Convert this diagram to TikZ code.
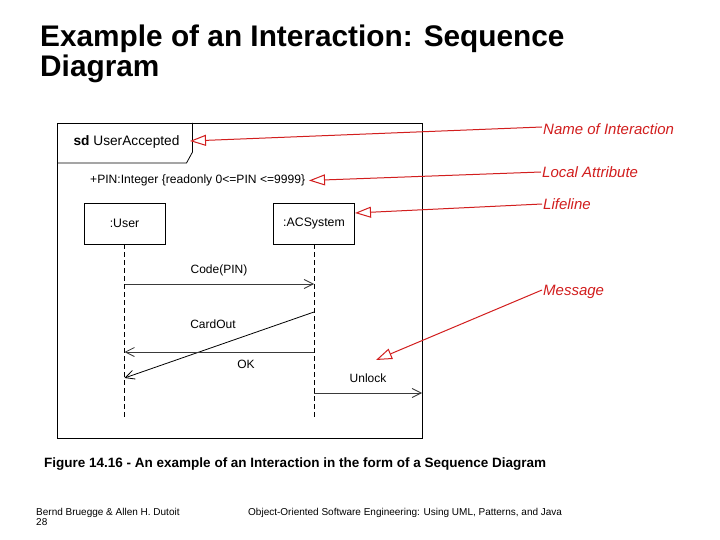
\documentclass[tikz,border=0pt]{standalone}
\usepackage{fontspec}
\setmainfont{Liberation Sans}
\usetikzlibrary{arrows.meta,positioning}
\definecolor{NoteRed}{HTML}{D21E1E}
\definecolor{MsgGrey}{HTML}{3A3A3A}

\begin{document}
\begin{tikzpicture}[x=1pt,y=-1pt,
 lifebox/.style={draw,line width=.8pt,minimum width=81pt,minimum height=41pt,inner sep=0pt,font=\fontsize{12.3}{14}\selectfont},
 lifeline/.style={dashed,line width=.8pt,dash pattern=on 5pt off 3pt},
 msg/.style={draw=MsgGrey,line width=.8pt,-{Straight Barb[length=9pt,width=9pt]}},
 msglabel/.style={font=\fontsize{12}{14}\selectfont,inner sep=1pt},
 note/.style={font=\itshape\fontsize{15}{17}\selectfont,text=NoteRed,anchor=west,inner sep=1pt},
 callout/.style={draw=NoteRed,line width=1pt,-{Triangle[open,length=16pt,width=11pt,fill=white]}}]
 \fill[white] (0,0) rectangle (720,540);
 % slide title
 \node[anchor=base west,inner sep=0pt,font=\bfseries\fontsize{29.8}{32}\selectfont] (title) at (40,47) {Example of an Interaction: Sequence};
 \node[anchor=base west,inner sep=0pt,font=\bfseries\fontsize{29.8}{32}\selectfont] (titlecont) at (40,77) {Diagram};
 % frame and sd tab
 \draw[line width=.8pt] (57,123) rectangle (422,438);
 \draw[line width=.8pt] (57,163) -- (186.5,163) -- (192.5,152) -- (192.5,123);
 \node[font=\fontsize{13.7}{15}\selectfont,inner sep=1pt] (sdname) at (126.5,142) {\textbf{sd} UserAccepted};
 \node[font=\fontsize{12.1}{14}\selectfont,inner sep=1pt,anchor=west] (attr) at (89,180) {+PIN:Integer \{readonly 0<=PIN <=9999\}};
 % lifelines
 \node[lifebox] (user) at (124.5,223.5) {:User};
 \node[lifebox] (acs) at (314,223.5) {:ACSystem};
 \coordinate (userend) at (124.5,420);
 \coordinate (acsend) at (314,420);
 \draw[lifeline] (user.south) -- (userend);
 \draw[lifeline] (acs.south) -- (acsend);
 % messages
 \coordinate (codeA) at (124.5,284);
 \coordinate (codeB) at (314,284);
 \coordinate (cardA) at (314,312);
 \coordinate (cardB) at (124.5,378);
 \coordinate (okA) at (314,352);
 \coordinate (okB) at (124.5,352);
 \coordinate (unlockA) at (314,393);
 \coordinate (unlockB) at (422,393);
 \draw[msg] (codeA) -- (codeB);
 \draw[msg,draw=black] (cardA) -- (cardB);
 \draw[msg] (okA) -- (okB);
 \draw[msg] (unlockA) -- (unlockB);
 \node[msglabel] (codelbl) at (219,270) {Code(PIN)};
 \node[msglabel] (cardlbl) at (213,324) {CardOut};
 \node[msglabel] (oklbl) at (246,364) {OK};
 \node[msglabel] (unlocklbl) at (368,378) {Unlock};
 % red annotations
 \node[note] (nameint) at (542,129) {Name of Interaction};
 \node[note] (localattr) at (541,172) {Local Attribute};
 \node[note] (lifelbl) at (542,204) {Lifeline};
 \node[note] (msglbl) at (542,292) {Message};
 \coordinate (nametip) at (190,141);
 \coordinate (attrtip) at (309,180.5);
 \coordinate (lifetip) at (355,213);
 \coordinate (msgtip) at (376,360);
 \draw[callout] ([yshift=2pt]nameint.west) -- (nametip);
 \draw[callout] (localattr.west) -- (attrtip);
 \draw[callout] (lifelbl.west) -- (lifetip);
 \draw[callout] ([yshift=2pt]msglbl.west) -- (msgtip);
 % caption and footer
 \node[anchor=west,inner sep=0pt,font=\bfseries\fontsize{13.5}{15}\selectfont] (caption) at (44,464) {Figure 14.16 - An example of an Interaction in the form of a Sequence Diagram};
 \node[anchor=north west,align=left,inner sep=0pt,font=\fontsize{10}{10}\selectfont] (authors) at (36,508) {Bernd Bruegge \& Allen H. Dutoit\\28};
 \node[anchor=north west,inner sep=0pt,font=\fontsize{10}{10}\selectfont] (book) at (248,508) {Object-Oriented Software Engineering: Using UML, Patterns, and Java};
\end{tikzpicture}
\end{document}
